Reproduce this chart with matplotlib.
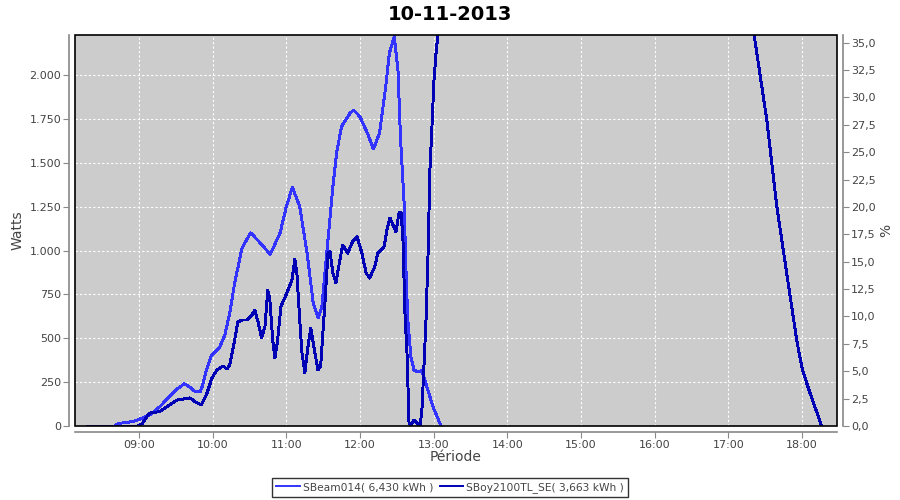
"""Daily production chart for two inverters, 10-11-2013."""

from datetime import datetime

import matplotlib

matplotlib.use("Agg")
import matplotlib.dates as mdates
import matplotlib.pyplot as plt
from matplotlib.patches import Rectangle
from matplotlib.ticker import FuncFormatter, MultipleLocator

DAY = "2013-11-10"

# SBeam014 (light blue)
beam_times = [
    "08:18", "08:40", "08:44", "08:55", "09:01", "09:09", "09:17", "09:25",
    "09:31", "09:37", "09:41", "09:46", "09:50", "09:52", "09:55", "09:59",
    "10:06", "10:10", "10:14", "10:18", "10:24", "10:31", "10:39", "10:47",
    "10:55", "11:00", "11:05", "11:11", "11:17", "11:22", "11:26", "11:29",
    "11:33", "11:38", "11:41", "11:45", "11:52", "11:55", "12:00", "12:06",
    "12:11", "12:16", "12:21", "12:24", "12:28", "12:31", "12:33", "12:36",
    "12:37:30", "12:39", "12:41:30", "12:44", "12:47", "12:50:30", "12:54:30",
    "12:59:30", "13:06",
]
beam_watts = [
    0, 0, 15, 25, 40, 63, 110, 167,
    210, 240, 224, 195, 195, 234, 319, 399,
    452, 518, 644, 815, 1014, 1101, 1042, 978,
    1100, 1248, 1360, 1250, 984, 700, 615, 680,
    984, 1364, 1555, 1706, 1783, 1800, 1763, 1670,
    1578, 1670, 1933, 2125, 2218, 2028, 1648, 1270,
    889, 604, 395, 319, 309, 315, 224,
    110, 0,
]

# SBoy2100TL_SE (dark blue)
boy_times = [
    "08:18", "08:59", "09:03", "09:06:30", "09:09", "09:17", "09:25", "09:31",
    "09:41:30", "09:47", "09:51", "09:55:30", "09:59:30", "10:03:30", "10:08:30",
    "10:11:40", "10:14", "10:18", "10:20:40", "10:24:40", "10:28", "10:32",
    "10:34:30", "10:37", "10:40", "10:42:40", "10:45", "10:46:40", "10:49",
    "10:50:50", "10:53", "10:55:40", "11:00:30", "11:04:40", "11:07", "11:08:40",
    "11:11", "11:12:50", "11:15:10", "11:17:40", "11:20", "11:22:30", "11:25:50",
    "11:28", "11:31:30", "11:34", "11:35:40", "11:38", "11:40:30", "11:43:40",
    "11:46", "11:50", "11:54", "11:57:40", "12:01:40", "12:05", "12:08",
    "12:12", "12:14:40", "12:19:40", "12:22", "12:24:30", "12:27", "12:29:20",
    "12:31:50", "12:33:30", "12:35", "12:36:40", "12:38:20", "12:40", "12:41:30",
    "12:44", "12:46:30", "12:49", "12:50:30", "12:52", "12:53:50", "12:55:30",
    "12:57", "12:58:40", "13:00:20", "13:02", "13:03:30", "13:15", "17:10",
    "17:21", "17:31:20", "17:39:30", "17:47:30", "17:55:40", "18:00:20",
    "18:06:30", "18:16",
]
boy_watts = [
    0, 0, 15, 53, 74, 82, 120, 148,
    160, 133, 120, 188, 273, 319, 342,
    325, 348, 490, 594, 604, 604, 632,
    661, 594, 501, 566, 775, 718, 490,
    387, 490, 680, 758, 832, 950, 872,
    604, 416, 302, 452, 558, 452, 319,
    338, 700, 985, 993, 872, 815, 946,
    1031, 985, 1050, 1078, 985, 872, 843,
    908, 985, 1022, 1117, 1185, 1145, 1107,
    1214, 1214, 1078, 644, 416, 17, 0,
    34, 17, 0, 91, 319, 604, 985,
    1459, 1706, 1972, 2125, 2228, 3000, 2750,
    2228, 1744, 1250, 872, 490, 319,
    188, 0,
]

series_labels = ["SBeam014( 6,430 kWh )", "SBoy2100TL_SE( 3,663 kWh )"]
series_colors = ["#3333ff", "#0000b4"]

title = "10-11-2013"
x_range = ("08:08", "18:28:30")
watts_max = 2228
percent_max = 35.7

TEXT = "#444444"
AXIS = "#888888"


def to_dt(t):
    fmt = "%Y-%m-%d %H:%M:%S" if t.count(":") == 2 else "%Y-%m-%d %H:%M"
    return datetime.strptime(f"{DAY} {t}", fmt)


fig = plt.figure(figsize=(9, 5), dpi=100)
ax = fig.add_axes([75 / 900, 74 / 500, 762 / 900, 391 / 500])
ax.set_facecolor("#cccccc")

for times, values, label, color in zip(
    [beam_times, boy_times], [beam_watts, boy_watts], series_labels, series_colors
):
    ax.plot([to_dt(t) for t in times], values, color=color, lw=1.4, label=label,
            antialiased=False)

ax.set_xlim(to_dt(x_range[0]), to_dt(x_range[1]))
ax.set_ylim(0, watts_max)
ax.xaxis.set_major_locator(mdates.HourLocator())
ax.xaxis.set_major_formatter(mdates.DateFormatter("%H:%M"))
ax.yaxis.set_major_locator(MultipleLocator(250))
ax.yaxis.set_major_formatter(FuncFormatter(lambda v, _: f"{int(v):,}".replace(",", ".")))
ax.grid(color="white", linestyle=(0, (2, 2)), linewidth=0.8)
ax.set_axisbelow(True)

ax2 = ax.twinx()
ax2.set_ylim(0, percent_max)
ax2.yaxis.set_major_locator(MultipleLocator(2.5))
ax2.yaxis.set_major_formatter(FuncFormatter(lambda v, _: f"{v:.1f}".replace(".", ",")))

for a in (ax, ax2):
    for side in ("top", "right", "left", "bottom"):
        a.spines[side].set_visible(False)
    a.tick_params(colors=AXIS, labelcolor=TEXT, labelsize=8, length=4, width=0.8,
                  pad=2)

for side, a in (("left", ax), ("bottom", ax), ("right", ax2)):
    a.spines[side].set_visible(True)
    a.spines[side].set_position(("outward", 4))
    a.spines[side].set_color(AXIS)
    a.spines[side].set_linewidth(1.2)

ax2.add_patch(Rectangle((0, 0), 1, 1, transform=ax.transAxes, fill=False,
                        ec="black", lw=1.2, clip_on=False, zorder=5))

ax.set_ylabel("Watts", fontsize=10, color=TEXT)
ax.yaxis.set_label_coords(-0.066, 0.5)
ax.set_xlabel("Période", fontsize=10, color=TEXT)
ax.xaxis.set_label_coords(0.5, -0.062)
ax2.set_ylabel("%", fontsize=10, color=TEXT)
ax2.yaxis.set_label_coords(1.056, 0.5)

fig.suptitle(title, fontsize=14, fontweight="bold", y=0.99)

leg = fig.legend(loc="center", bbox_to_anchor=(0.5, 0.025), ncol=2, fontsize=7.7,
                 frameon=True, fancybox=False, handlelength=2.2, handletextpad=0.3,
                 columnspacing=0.6, borderpad=0.35, borderaxespad=0)
leg.get_frame().set_edgecolor("black")
leg.get_frame().set_linewidth(1)
for text in leg.get_texts():
    text.set_color(TEXT)

fig.savefig("out.png", dpi=100)
